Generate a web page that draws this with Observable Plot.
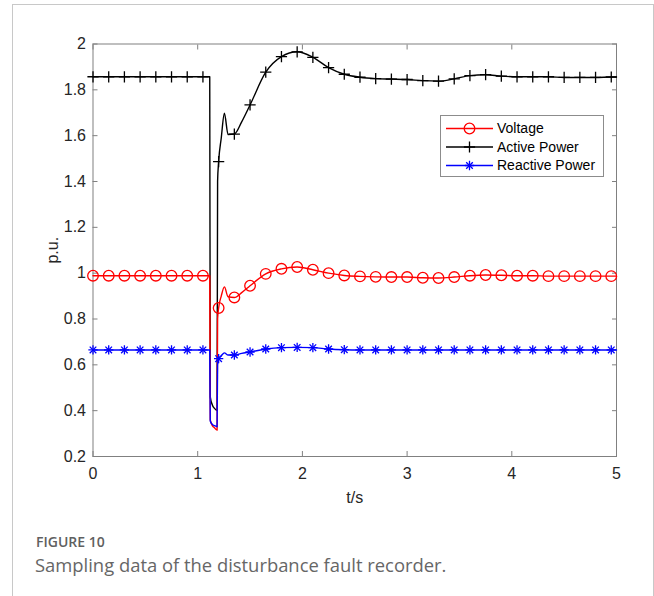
<!DOCTYPE html>
<html><head><meta charset="utf-8">
<script src="https://cdn.jsdelivr.net/npm/d3@7"></script>
<script src="https://cdn.jsdelivr.net/npm/@observablehq/plot@0.6"></script>
<style>
body{margin:0;background:#fff;}
#wrap{position:relative;width:654px;height:596px;overflow:hidden;font-family:"Liberation Sans",Arial,sans-serif;}
#border{position:absolute;left:12px;top:4px;width:640px;height:700px;border:1px solid #c8c8c8;}
#chart{position:absolute;left:0;top:0;}
#legend{position:absolute;left:440px;top:115px;width:162px;height:60px;border:1px solid #8c8c8c;background:#fff;}
.cap1{position:absolute;left:36px;top:534px;line-height:15px;font-family:"Open Sans",sans-serif;font-weight:600;font-size:14px;color:#606060;}
.cap2{position:absolute;left:35px;top:555px;line-height:20px;font-family:"Open Sans",sans-serif;font-weight:400;font-size:18.4px;color:#666;}
</style></head>
<body>
<div id="wrap">
  <div id="border"></div>
  <div id="chart"></div>
  <div id="legend"></div>
  <div class="cap1">FIGURE 10</div>
  <div class="cap2">Sampling data of the disturbance fault recorder.</div>
</div>
<script>
// time samples (s)
const time = [0,0.15,0.3,0.45,0.6,0.75,0.9,1.05,1.115,1.12,1.14,1.16,1.185,1.19,1.2,1.225,1.255,1.29,1.35,1.42,1.5,1.65,1.8,1.95,2.1,2.25,2.4,2.55,2.7,2.85,3.0,3.15,3.3,3.45,3.6,3.75,3.9,4.05,4.2,4.35,4.5,4.65,4.8,4.95,5.0];
const voltage = [0.989,0.989,0.989,0.989,0.989,0.989,0.989,0.989,0.989,0.36,0.335,0.325,0.315,0.80,0.848,0.90,0.94,0.897,0.894,0.915,0.945,0.997,1.019,1.027,1.015,1.000,0.990,0.986,0.984,0.983,0.983,0.980,0.979,0.983,0.989,0.992,0.991,0.989,0.989,0.987,0.987,0.987,0.987,0.987,0.987];
const activePower = [1.857,1.857,1.857,1.857,1.857,1.857,1.857,1.857,1.857,0.46,0.425,0.41,0.40,1.40,1.487,1.59,1.698,1.605,1.607,1.66,1.734,1.877,1.945,1.966,1.942,1.897,1.868,1.855,1.849,1.847,1.845,1.840,1.838,1.848,1.862,1.866,1.860,1.857,1.857,1.857,1.854,1.854,1.854,1.856,1.856];
const reactivePower = [0.665,0.665,0.665,0.665,0.665,0.665,0.665,0.665,0.665,0.355,0.34,0.335,0.33,0.60,0.627,0.64,0.652,0.643,0.643,0.65,0.656,0.669,0.675,0.676,0.675,0.669,0.666,0.665,0.665,0.665,0.665,0.665,0.665,0.665,0.665,0.665,0.665,0.665,0.665,0.665,0.665,0.665,0.665,0.665,0.665];
const markerStep = 0.15;
const seriesNames = ["Voltage","Active Power","Reactive Power"];
const seriesColors = ["#ff0000","#000000","#0000ff"];
const xTicks = [0,1,2,3,4,5];
const xTickLabels = ["0","1","2","3","4","5"];
const yTicks = [0.2,0.4,0.6,0.8,1,1.2,1.4,1.6,1.8,2];
const yTickLabels = ["0.2","0.4","0.6","0.8","1","1.2","1.4","1.6","1.8","2"];

const rows = time.map((t,i)=>({t, v: voltage[i], p: activePower[i], q: reactivePower[i]}));
const marks = rows.filter(d => Math.abs(d.t/markerStep - Math.round(d.t/markerStep)) < 1e-6);

const axisGray = "#808080";
const textCol = "#262626";
const chart = Plot.plot({
  width: 654, height: 520,
  marginLeft: 92.5, marginRight: 38, marginTop: 43.5, marginBottom: 64,
  style: {fontFamily: "'Liberation Sans', Arial, sans-serif", fontSize: "16px", color: textCol, background: "transparent", overflow: "visible"},
  x: {domain: [0,5]},
  y: {domain: [0.2,2]},
  marks: [
    Plot.frame({stroke: axisGray, strokeWidth: 1}),
    Plot.axisX(xTicks, {tickSize: 0, tickPadding: 11, tickFormat: d => xTickLabels[xTicks.indexOf(d)], label: "t/s", labelAnchor: "center", labelArrow: "none", labelOffset: 46, fill: textCol}),
    Plot.axisX(xTicks, {tickSize: -5, tickFormat: () => "", label: null, stroke: axisGray}),
    Plot.axisX(xTicks, {anchor: "top", tickSize: -5, tickFormat: () => "", label: null, stroke: axisGray}),
    Plot.axisY(yTicks, {tickSize: 0, tickPadding: 7, tickFormat: d => yTickLabels[yTicks.indexOf(d)], label: "p.u.", labelAnchor: "center", labelArrow: "none", labelOffset: 46, fill: textCol}),
    Plot.axisY(yTicks, {tickSize: -5, tickFormat: () => "", label: null, stroke: axisGray}),
    Plot.axisY(yTicks, {anchor: "right", tickSize: -5, tickFormat: () => "", label: null, stroke: axisGray}),
    Plot.line(rows, {x: "t", y: "p", stroke: seriesColors[1], strokeWidth: 1.4, curve: "monotone-x"}),
    Plot.line(rows, {x: "t", y: "v", stroke: seriesColors[0], strokeWidth: 1.4, curve: "monotone-x"}),
    Plot.line(rows, {x: "t", y: "q", stroke: seriesColors[2], strokeWidth: 1.4, curve: "monotone-x"}),
    Plot.dot(marks, {x: "t", y: "v", symbol: "circle", r: 5.3, stroke: seriesColors[0], fill: "none", strokeWidth: 1.3}),
    Plot.dot(marks, {x: "t", y: "p", symbol: "plus", r: 3.7, stroke: seriesColors[1], strokeWidth: 1.3}),
    Plot.dot(marks, {x: "t", y: "q", symbol: "plus", r: 3.1, stroke: seriesColors[2], strokeWidth: 1.3}),
    Plot.dot(marks, {x: "t", y: "q", symbol: "times", r: 3.1, stroke: seriesColors[2], strokeWidth: 1.3})
  ]
});
document.getElementById("chart").appendChild(chart);

// legend
const lg = d3.select("#legend").append("svg").attr("width", 162).attr("height", 60)
  .style("font-family", "'Liberation Sans', Arial, sans-serif").style("font-size", "14px");
const rowY = [12.5, 31, 49.5];
const symbolDefs = [[[d3.symbolCircle, 5.3]], [[d3.symbolPlus, 3.7]], [[d3.symbolPlus, 3.1],[d3.symbolTimes, 3.1]]];
seriesNames.forEach((name, i) => {
  const g = lg.append("g").attr("transform", `translate(0,${rowY[i]})`);
  g.append("line").attr("x1", 5).attr("x2", 52).attr("stroke", seriesColors[i]).attr("stroke-width", 1.4);
  symbolDefs[i].forEach(([type, r]) => {
    g.append("path").attr("d", d3.symbol(type, Math.PI * r * r)()).attr("transform", "translate(28.5,0)")
      .attr("fill", "none").attr("stroke", seriesColors[i]).attr("stroke-width", 1.3);
  });
  g.append("text").attr("x", 56).attr("dy", "0.35em").attr("fill", "#000").text(name);
});
</script>
</body></html>
